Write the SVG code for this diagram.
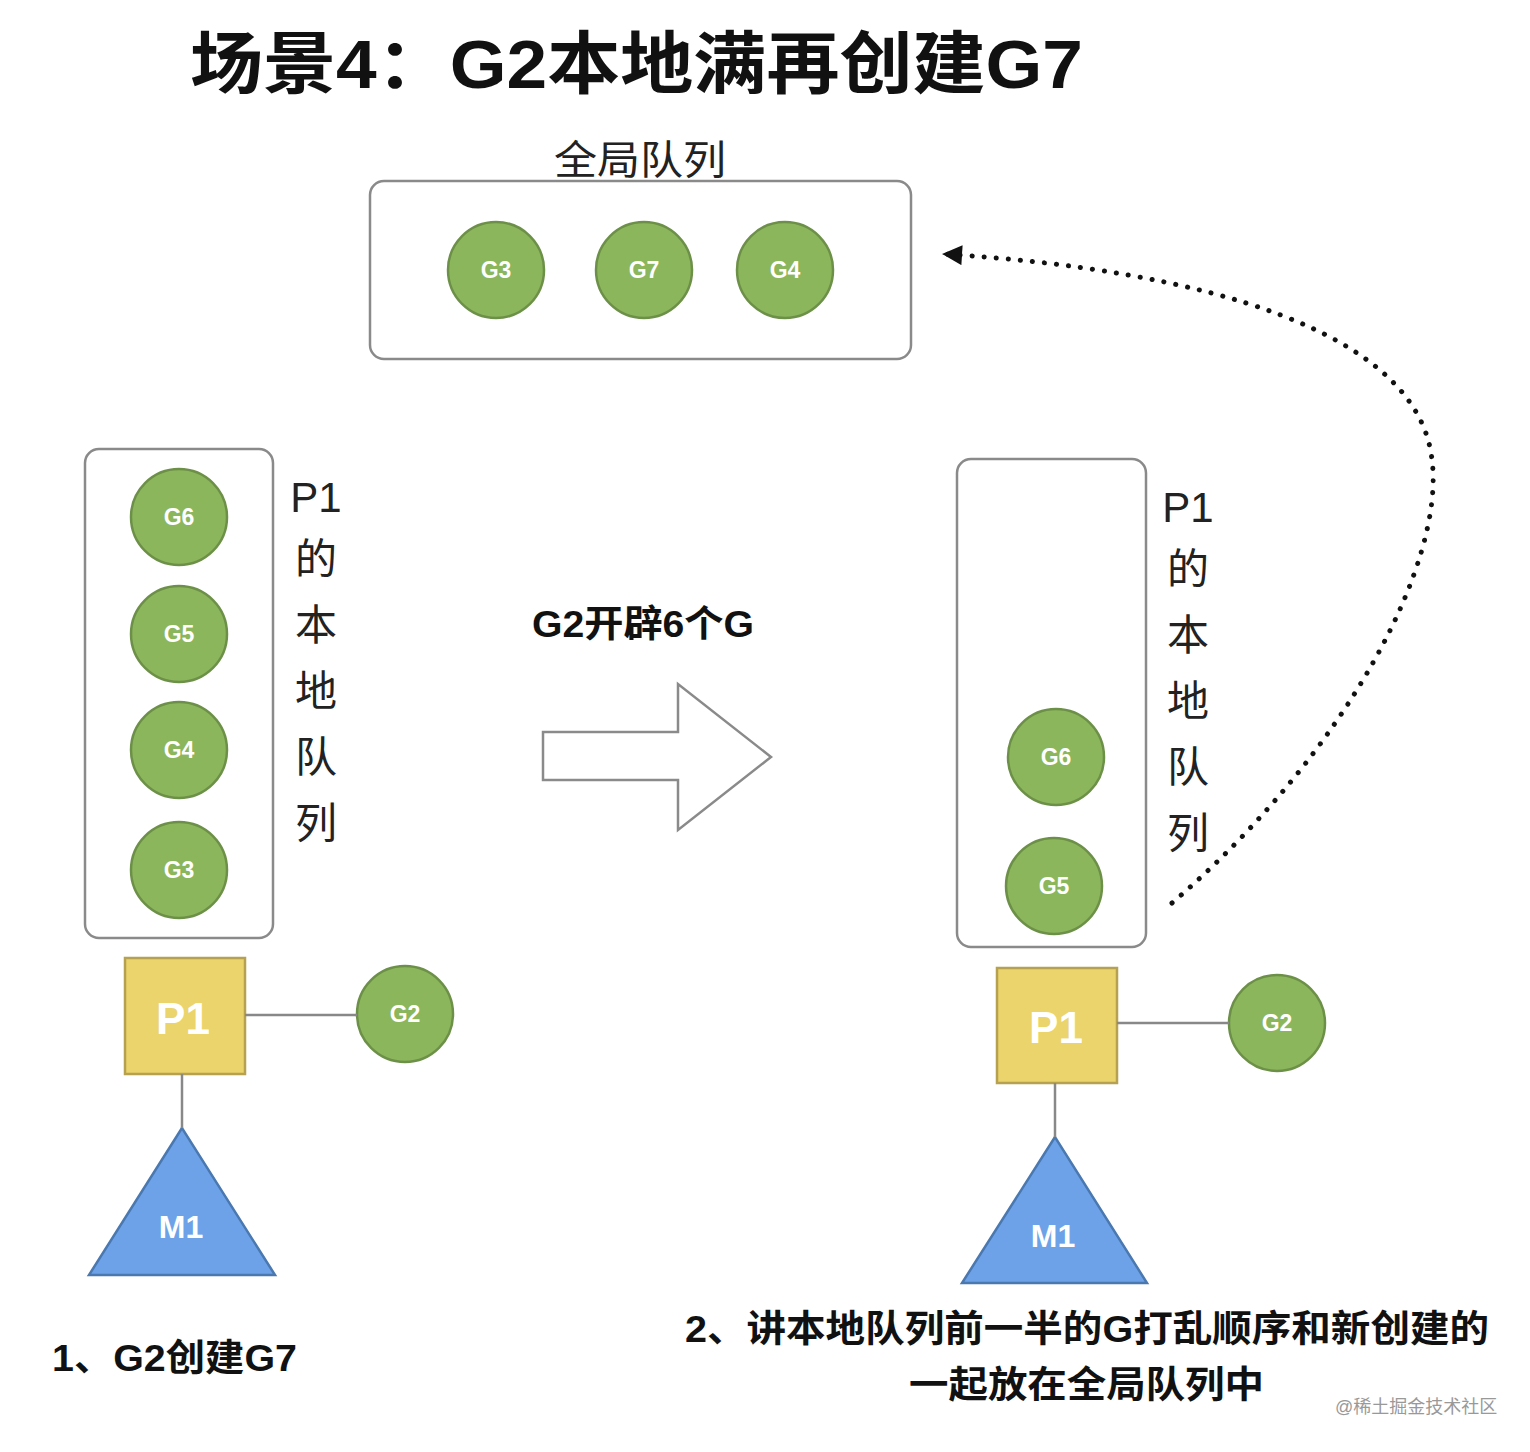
<svg xmlns="http://www.w3.org/2000/svg" width="1530" height="1452" viewBox="0 0 1530 1452">
<style>
text{font-family:"Liberation Sans","Noto Sans CJK SC",sans-serif}
.g{fill:#8bb65c;stroke:#6d9048;stroke-width:2.5}
.gt{fill:#fff;font-weight:bold;font-size:23px;text-anchor:middle}
.box{fill:#fff;stroke:#8a8a8a;stroke-width:2.5}
.vt{font-size:42px;text-anchor:middle;fill:#222}
.p{fill:#ebd46b;stroke:#b5a14f;stroke-width:2.5}
.pt{fill:#fff;font-weight:bold;font-size:44px;text-anchor:middle}
.mt{fill:#fff;font-weight:bold;font-size:32px;text-anchor:middle}
.m{fill:#6ea2e8;stroke:#4a78b0;stroke-width:2.5}
.ln{stroke:#888;stroke-width:2.5;fill:none}
.b{font-weight:bold;font-size:37px;fill:#111}
</style>
<defs><marker id="ah" viewBox="0 0 10 10" refX="9" refY="5" markerWidth="24" markerHeight="20" orient="auto-start-reverse" markerUnits="userSpaceOnUse"><path d="M0,0L10,5L0,10z" fill="#111"/></marker></defs>
<rect width="1530" height="1452" fill="#fff"/>
<text x="190" y="88" font-size="68" font-weight="bold" fill="#111" textLength="893" lengthAdjust="spacingAndGlyphs">场景4：G2本地满再创建G7</text>
<g id="global">
<text x="640" y="174" font-size="40" text-anchor="middle" fill="#222" textLength="172" lengthAdjust="spacingAndGlyphs">全局队列</text>
<rect class="box" x="370" y="181" width="541" height="178" rx="14"/>
<circle class="g" cx="496" cy="270" r="48"/><text class="gt" x="496" y="278">G3</text>
<circle class="g" cx="644" cy="270" r="48"/><text class="gt" x="644" y="278">G7</text>
<circle class="g" cx="785" cy="270" r="48"/><text class="gt" x="785" y="278">G4</text>
</g>
<g id="left">
<rect class="box" x="85" y="449" width="188" height="489" rx="14"/>
<circle class="g" cx="179" cy="517" r="48"/><text class="gt" x="179" y="525">G6</text>
<circle class="g" cx="179" cy="634" r="48"/><text class="gt" x="179" y="642">G5</text>
<circle class="g" cx="179" cy="750" r="48"/><text class="gt" x="179" y="758">G4</text>
<circle class="g" cx="179" cy="870" r="48"/><text class="gt" x="179" y="878">G3</text>
<text class="vt" x="316" y="512">P1</text><text class="vt" x="316" y="574">的</text><text class="vt" x="316" y="640">本</text><text class="vt" x="316" y="706">地</text><text class="vt" x="316" y="772">队</text><text class="vt" x="316" y="838">列</text>
<rect class="p" x="125" y="958" width="120" height="116"/><text class="pt" x="183" y="1034">P1</text>
<circle class="g" cx="405" cy="1014" r="48"/><text class="gt" x="405" y="1022">G2</text>
<polygon class="m" points="182,1128 89,1275 275,1275"/><text class="mt" x="181" y="1238">M1</text>
<text class="b" x="52" y="1371" textLength="245" lengthAdjust="spacingAndGlyphs">1、G2创建G7</text>
</g>
<g id="middle">
<text class="b" x="643" y="637" text-anchor="middle" textLength="222" lengthAdjust="spacingAndGlyphs">G2开辟6个G</text>
<polygon points="543,732 678,732 678,684 771,757 678,830 678,780 543,780" fill="#fff" stroke="#8a8a8a" stroke-width="2.5"/>
</g>
<g id="right">
<rect class="box" x="957" y="459" width="189" height="488" rx="14"/>
<circle class="g" cx="1056" cy="757" r="48"/><text class="gt" x="1056" y="765">G6</text>
<circle class="g" cx="1054" cy="886" r="48"/><text class="gt" x="1054" y="894">G5</text>
<text class="vt" x="1188" y="522">P1</text><text class="vt" x="1188" y="584">的</text><text class="vt" x="1188" y="650">本</text><text class="vt" x="1188" y="716">地</text><text class="vt" x="1188" y="782">队</text><text class="vt" x="1188" y="848">列</text>
<rect class="p" x="997" y="968" width="120" height="115"/><text class="pt" x="1056" y="1043">P1</text>
<circle class="g" cx="1277" cy="1023" r="48"/><text class="gt" x="1277" y="1031">G2</text>
<polygon class="m" points="1055,1137 962,1283 1147,1283"/><text class="mt" x="1053" y="1247">M1</text>
<text class="b" x="685" y="1342" textLength="804" lengthAdjust="spacingAndGlyphs">2、讲本地队列前一半的G打乱顺序和新创建的</text>
<text class="b" x="909" y="1398" textLength="355" lengthAdjust="spacingAndGlyphs">一起放在全局队列中</text>
</g>
<g id="connectors">
<line class="ln" x1="245" y1="1015" x2="357" y2="1015"/>
<line class="ln" x1="182" y1="1074" x2="182" y2="1128"/>
<line class="ln" x1="1117" y1="1023" x2="1229" y2="1023"/>
<line class="ln" x1="1055" y1="1083" x2="1055" y2="1137"/>
<path d="M1172,903 C1350,750 1445,560 1432,460 C1418,330 1200,270 944,254" fill="none" stroke="#111" stroke-width="5" stroke-dasharray="0.1 12" stroke-linecap="round" marker-end="url(#ah)"/>
</g>
<text x="1335" y="1413" font-size="18" fill="#999">@稀土掘金技术社区</text>
</svg>
